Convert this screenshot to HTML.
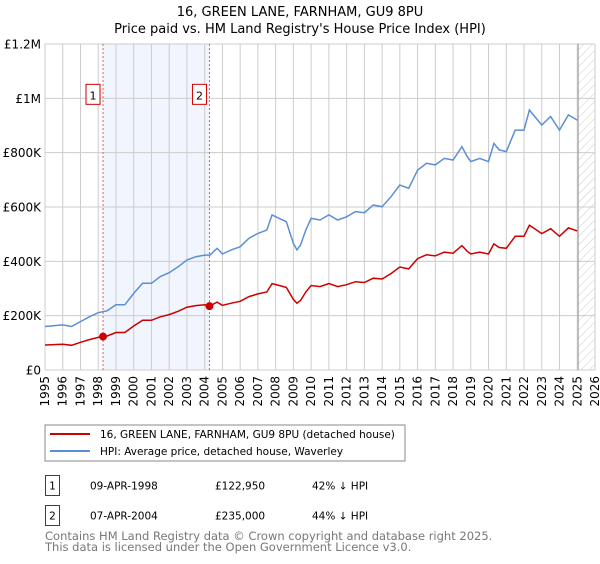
<!DOCTYPE html>
<html><head><meta charset="utf-8"><style>
body{margin:0;background:#fff;font-family:"DejaVu Sans","Liberation Sans",sans-serif;}
svg text{font-family:"DejaVu Sans","Liberation Sans",sans-serif;}
</style></head><body>
<svg id="chart" width="600" height="560" xmlns="http://www.w3.org/2000/svg">
<defs><pattern id="hatch" width="6" height="6" patternUnits="userSpaceOnUse" patternTransform="rotate(45)"><line x1="0" y1="0" x2="0" y2="6" stroke="#ccc" stroke-width="1"/></pattern></defs>
<text x="300" y="16" text-anchor="middle" font-size="13">16, GREEN LANE, FARNHAM, GU9 8PU</text>
<text x="300" y="33" text-anchor="middle" font-size="13">Price paid vs. HM Land Registry's House Price Index (HPI)</text>
<g id="grid"></g><g id="series"></g><g id="axes"></g>
<rect x="45" y="425" width="360" height="36" fill="#fff" stroke="#888"/>
<line x1="50" y1="434" x2="90" y2="434" stroke="#cc0000" stroke-width="2"/>
<text x="100" y="438" font-size="10.5">16, GREEN LANE, FARNHAM, GU9 8PU (detached house)</text>
<line x1="50" y1="451" x2="90" y2="451" stroke="#5b8fd4" stroke-width="2"/>
<text x="100" y="455" font-size="10.5">HPI: Average price, detached house, Waverley</text>
<rect x="45.5" y="475.5" width="14" height="20" fill="none" stroke="#cc0000"/>
<text x="52.5" y="489.5" font-size="10.5" text-anchor="middle">1</text>
<text x="90" y="489.5" font-size="10.5">09-APR-1998</text>
<text x="215" y="489.5" font-size="10.5">£122,950</text>
<text x="312" y="489.5" font-size="10.5">42% ↓ HPI</text>
<rect x="45.5" y="505.5" width="14" height="20" fill="none" stroke="#cc0000"/>
<text x="52.5" y="519.5" font-size="10.5" text-anchor="middle">2</text>
<text x="90" y="519.5" font-size="10.5">07-APR-2004</text>
<text x="215" y="519.5" font-size="10.5">£235,000</text>
<text x="312" y="519.5" font-size="10.5">44% ↓ HPI</text>
<text x="45" y="540" font-size="11.5" fill="#777">Contains HM Land Registry data © Crown copyright and database right 2025.</text>
<text x="45" y="551" font-size="11.5" fill="#777">This data is licensed under the Open Government Licence v3.0.</text>
</svg>
<script>
const hpiYears=[1995,1996,1996.5,1997,1997.5,1998,1998.5,1999,1999.5,2000,2000.5,2001,2001.5,2002,2002.5,2003,2003.5,2004,2004.3,2004.7,2005,2005.5,2006,2006.5,2007,2007.5,2007.8,2008.2,2008.6,2009,2009.2,2009.4,2009.7,2010,2010.5,2011,2011.5,2012,2012.5,2013,2013.5,2014,2014.5,2015,2015.5,2016,2016.5,2017,2017.5,2018,2018.5,2018.8,2019,2019.5,2020,2020.3,2020.6,2021,2021.5,2022,2022.3,2022.6,2023,2023.5,2024,2024.5,2025];
const hpiValues=[160,166,160,178,196,211,218,240,240,282,319,319,344,358,380,405,417,423,423,448,427,442,454,485,503,515,571,558,546,466,442,460,515,558,552,571,552,564,583,579,607,601,638,681,669,736,761,755,779,773,822,785,767,779,767,834,810,804,883,883,957,933,902,933,883,939,920];
const propValues=[92,95,91,102,112,120,125,138,138,162,183,183,196,204,216,231,237,240,236,250,238,246,253,270,280,287,318,311,304,260,246,256,287,311,307,318,307,314,325,322,338,335,355,379,372,410,424,420,434,430,458,437,427,434,427,464,451,448,492,492,533,520,502,520,492,523,512];
const yTicks=[0,200,400,600,800,1000,1200];
const yTickLabels=["£0","£200K","£400K","£600K","£800K","£1M","£1.2M"];
const xTicks=[1995,1996,1997,1998,1999,2000,2001,2002,2003,2004,2005,2006,2007,2008,2009,2010,2011,2012,2013,2014,2015,2016,2017,2018,2019,2020,2021,2022,2023,2024,2025,2026];
const sales=[{t:1998.27,v:122.95,label:"1"},{t:2004.27,v:235,label:"2"}];
const X0=45,X1=595,Y0=370,Y1=44;
const xs=t=>X0+(t-1995)/(2026-1995)*(X1-X0);
const ys=v=>Y0-v/1200*(Y0-Y1);
const NS="http://www.w3.org/2000/svg";
function mk(parent,tag,attrs){const e=document.createElementNS(NS,tag);for(const k in attrs)e.setAttribute(k,attrs[k]);document.getElementById(parent).appendChild(e);return e;}
let e;
e=mk('grid','rect',{x:xs(sales[0].t),y:Y1,width:xs(sales[1].t)-xs(sales[0].t),height:Y0-Y1,fill:'#eef3fc',opacity:0.8});


e=mk('grid','rect',{x:xs(2025.05),y:Y1,width:X1-xs(2025.05),height:Y0-Y1,fill:'url(#hatch)'});


xTicks.forEach(t=>{
 e=mk('grid','line',{x1:xs(t),x2:xs(t),y1:Y1,y2:Y0,stroke:'#ccc','stroke-width':1});
 
 
 e=mk('axes','text',{x:0,y:0,'font-size':12,'text-anchor':'end',transform:`translate(${xs(t)+4},${Y0+6}) rotate(-90)`});
 e.textContent=t;
 
 
});
yTicks.forEach((v,i)=>{
 e=mk('grid','line',{x1:X0,x2:X1,y1:ys(v),y2:ys(v),stroke:'#ccc','stroke-width':1});
 
 
 e=mk('axes','text',{x:X0-4,y:ys(v)+4.5,'font-size':12,'text-anchor':'end'});
 e.textContent=yTickLabels[i];
 
 
});
e=mk('grid','line',{x1:xs(2025.05),x2:xs(2025.05),y1:Y1,y2:Y0,stroke:'#999','stroke-width':1});


sales.forEach(s=>{
 e=mk('series','line',{x1:xs(s.t),x2:xs(s.t),y1:Y1,y2:Y0,stroke:'#e06060','stroke-width':1,'stroke-dasharray':'2,2'});
 
 
});
const pts=(arr)=>hpiYears.map((t,i)=>xs(t).toFixed(1)+','+ys(arr[i]).toFixed(1)).join(' ');
e=mk('series','polyline',{points:pts(hpiValues),fill:'none',stroke:'#5b8fd4','stroke-width':1.5});


e=mk('series','polyline',{points:pts(propValues),fill:'none',stroke:'#cc0000','stroke-width':1.5});


sales.forEach(s=>{
 e=mk('series','circle',{cx:xs(s.t),cy:ys(s.v),r:4,fill:'#cc0000'});
 
 
 const bx=xs(s.t)-17;
 e=mk('series','rect',{x:bx,y:ys(1000)-14,width:14,height:20,fill:'#fff',stroke:'#cc0000'});
 
 
 e=mk('series','text',{x:bx+7,y:ys(1000)+1,'font-size':11,'text-anchor':'middle'});
 e.textContent=s.label;
 
 
});
</script>
</body></html>
